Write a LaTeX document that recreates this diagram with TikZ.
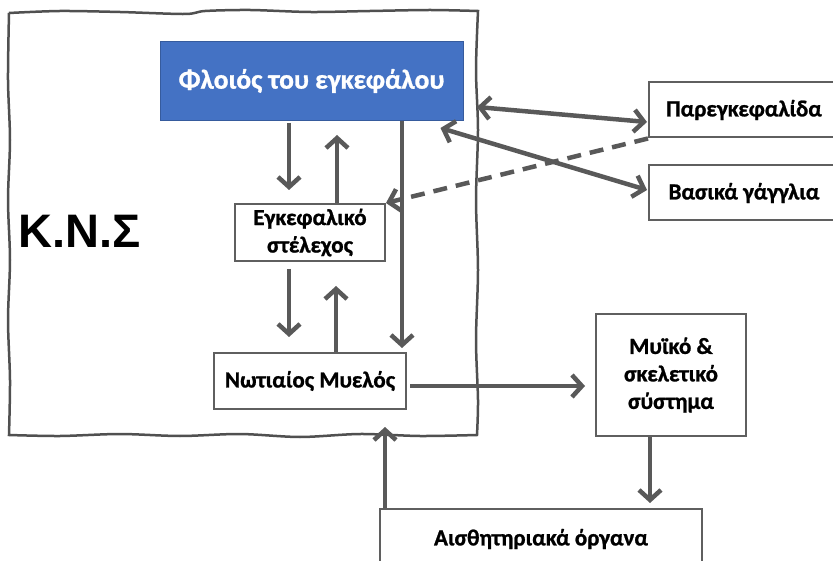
\documentclass[tikz,border=0pt]{standalone}
\usepackage{fontspec}
\setmainfont{Carlito}[BoldFeatures={FakeBold=1}]
\newfontfamily\arialfont{Liberation Sans}
\usetikzlibrary{arrows.meta,positioning,calc}
\definecolor{arrgray}{HTML}{595959}
\definecolor{boxgray}{HTML}{5F5F5F}
\definecolor{cortexblue}{HTML}{4472C4}

\begin{document}
\begin{tikzpicture}[x=1pt,y=-1pt,
  box/.style={draw=boxgray,line width=2pt,fill=white,align=center,inner sep=0pt,
    font=\bfseries\fontsize{23}{27.5}\selectfont},
  arr/.style={draw=arrgray,line width=4.5pt,-{Straight Barb[length=10pt,width=22pt]}},
  darr/.style={arr,{Straight Barb[length=10pt,width=22pt]}-{Straight Barb[length=10pt,width=22pt]}},
  frame/.style={draw=arrgray!90!black,line width=2.5pt}]
\useasboundingbox (0,0) rectangle (833,561);
\clip (0,0) rectangle (833,561);

% K.N.S frame
\draw[frame] plot[smooth,tension=0.5] coordinates {(9,13) (60,11) (120,12) (185,14) (205,11) (250,10) (310,12) (370,11) (430,10) (478,11)}
  -- plot[smooth,tension=0.5] coordinates {(478,11) (476,70) (478,130) (476,200) (478,270) (476,340) (478,400) (477,435)}
  -- plot[smooth,tension=0.5] coordinates {(477,435) (420,436) (360,434) (300,437) (240,434) (180,436) (120,434) (60,436) (9,435)}
  -- plot[smooth,tension=0.5] coordinates {(9,435) (10,380) (8,320) (10,260) (8,200) (10,140) (8,80) (9,13)};
\node (kns) at (80,231) {\arialfont\bfseries\fontsize{47}{50}\selectfont K.N.Σ};

% boxes
\node[box,fill=cortexblue,draw=cortexblue!80!black,line width=1pt,text=white,
  minimum width=303pt,minimum height=79pt,font=\bfseries\fontsize{27.5}{30}\selectfont]
  (cortex) at (311.5,81) {Φλοιός του εγκεφάλου};
\node[box,minimum width=150pt,minimum height=57pt] (stem) at (310,232.5) {Εγκεφαλικό\\στέλεχος};
\node[box,minimum width=192pt,minimum height=56pt] (spinal) at (310,381) {Νωτιαίος Μυελός};
\node[box,minimum width=190pt,minimum height=55pt] (cereb) at (744,110) {Παρεγκεφαλίδα};
\node[box,minimum width=190pt,minimum height=55pt] (basal) at (744,193) {Βασικά γάγγλια};
\node[box,minimum width=150pt,minimum height=122pt] (muscle) at (671,375) {Μυϊκό \&\\σκελετικό\\σύστημα};
\node[box,minimum width=322pt,minimum height=60pt] (sense) at (541,539) {Αισθητηριακά όργανα};
\coordinate (edge) at (477,107);

% connectors
\draw[arr,shorten <=2pt,shorten >=13pt] ([xshift=-22.5pt]cortex.south) -- ([xshift=-21pt]stem.north);
\draw[arr,shorten >=14pt] ([xshift=27pt]stem.north) -- ([xshift=25.5pt]cortex.south);
\draw[arr,shorten >=4pt] ([xshift=90.5pt]cortex.south) -- ([xshift=92pt]spinal.north);
\draw[arr,shorten <=7pt,shorten >=15pt] ([xshift=-21pt]stem.south) -- ([xshift=-21pt]spinal.north);
\draw[arr,shorten >=24pt] ([xshift=26pt]spinal.north) -- ([xshift=26pt]stem.south);
\draw[darr] (edge) -- ([yshift=-12pt,xshift=-1pt]cereb.west);
\draw[darr] ([xshift=-23pt,yshift=-7pt]cortex.south east) -- ([yshift=3pt,xshift=-1pt]basal.west);
\draw[arr,dashed,dash pattern=on 14pt off 9pt,-{Straight Barb[length=10pt,width=22pt]}] (cereb.south west) -- (stem.north east);
\draw[arr,shorten <=3pt,shorten >=10pt] ($(spinal.east)+(0,5)$) -- ($(spinal.east -| muscle.west)+(0,5)$);
\draw[arr,shorten >=5pt] ([xshift=-21pt]muscle.south) -- ([xshift=109pt]sense.north);
\draw[arr,shorten >=17pt] ([xshift=-156pt]sense.north) -- ([xshift=75pt]spinal.south);
\end{tikzpicture}
\end{document}
